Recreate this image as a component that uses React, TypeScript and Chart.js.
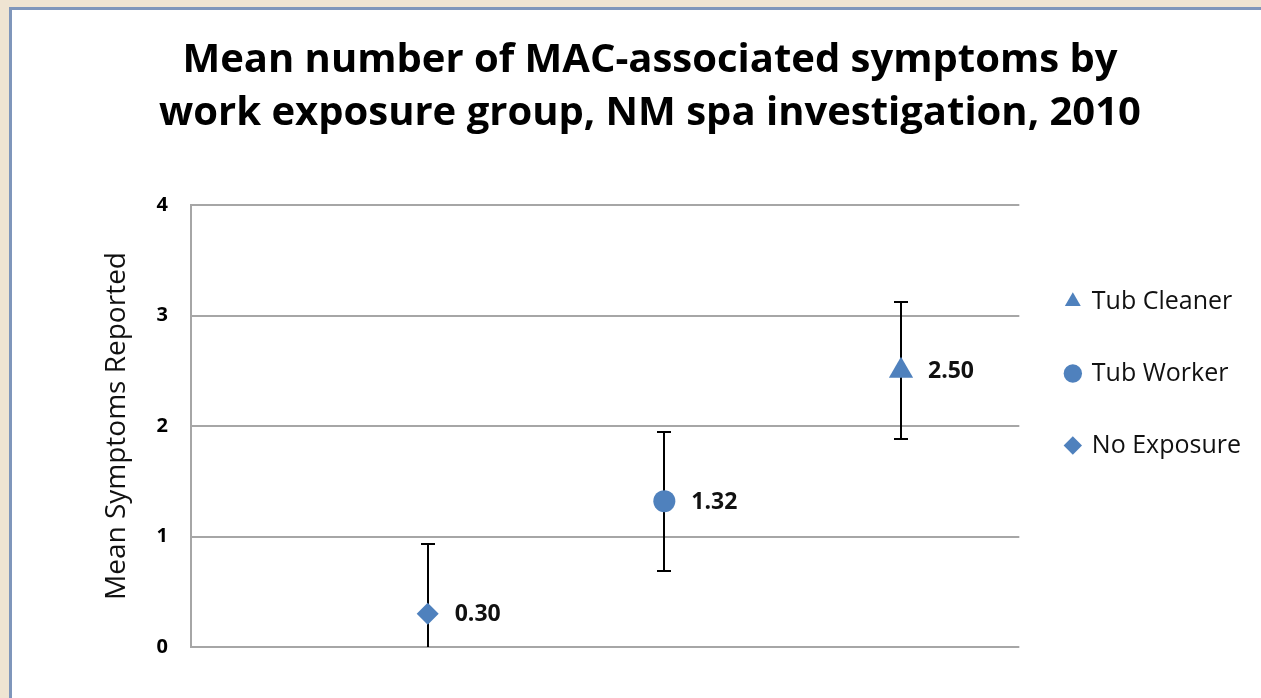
import React, { useEffect, useRef } from 'react';
import { Chart, registerables } from 'chart.js';

Chart.register(...registerables);

// ---- data ----
const seriesLabels = ['No Exposure', 'Tub Worker', 'Tub Cleaner'];
const groupPositions = [1, 2, 3];
const meanValues = [0.3, 1.32, 2.5];
const errorValues = [0.63, 0.63, 0.62];
const yTickValues = [0, 1, 2, 3, 4];
const titleLines = ['Mean number of MAC-associated symptoms by', 'work exposure group, NM spa investigation, 2010'];
const yAxisTitle = 'Mean Symptoms Reported';

const FONT = '"Open Sans", "DejaVu Sans", sans-serif';
const BLUE = '#4F81BD';
const SIDE_PAD = 37;

const errorBarPlugin = {
  id: 'errorBars',
  beforeDatasetsDraw(chart: any) {
    const { ctx, chartArea, scales } = chart;
    const x = scales.x;
    const y = scales.y;
    ctx.save();
    ctx.beginPath();
    ctx.rect(chartArea.left, chartArea.top - 2, chartArea.right - chartArea.left, chartArea.bottom - chartArea.top + 4);
    ctx.clip();
    ctx.strokeStyle = '#000000';
    ctx.lineWidth = 2;
    meanValues.forEach((m, i) => {
      const hi = m + errorValues[i];
      const lo = m - errorValues[i];
      const px = Math.round(x.getPixelForValue(groupPositions[i]));
      const pyHi = Math.round(y.getPixelForValue(hi));
      const pyLo = Math.round(y.getPixelForValue(Math.max(lo, y.min)));
      ctx.beginPath();
      ctx.moveTo(px, pyHi);
      ctx.lineTo(px, pyLo);
      if (hi <= y.max) {
        ctx.moveTo(px - 7, pyHi);
        ctx.lineTo(px + 7, pyHi);
      }
      if (lo >= y.min) {
        ctx.moveTo(px - 7, pyLo);
        ctx.lineTo(px + 7, pyLo);
      }
      ctx.stroke();
    });
    ctx.restore();
  },
};

const valueLabelPlugin = {
  id: 'valueLabels',
  afterDatasetsDraw(chart: any) {
    const { ctx } = chart;
    ctx.save();
    ctx.font = `bold 23px ${FONT}`;
    ctx.fillStyle = '#111111';
    ctx.textAlign = 'left';
    ctx.textBaseline = 'middle';
    chart.data.datasets.forEach((ds: any, i: number) => {
      const meta = chart.getDatasetMeta(i);
      const el = meta.data[0];
      if (!el) return;
      ctx.fillText(meanValues[i].toFixed(2), el.x + 27, el.y + 1);
    });
    ctx.restore();
  },
};

export default function App() {
  const canvasRef = useRef<HTMLCanvasElement | null>(null);

  useEffect(() => {
    document.body.style.margin = '0';
    const markerStyles: Record<string, { style: string; radius: number }> = {
      'No Exposure': { style: 'rectRot', radius: 11 },
      'Tub Worker': { style: 'circle', radius: 11 },
      'Tub Cleaner': { style: 'triangle', radius: 14 },
    };
    const datasets = seriesLabels.map((label, i) => ({
      label,
      data: [{ x: groupPositions[i], y: meanValues[i] }],
      pointStyle: markerStyles[label].style,
      pointRadius: markerStyles[label].radius,
      pointHoverRadius: markerStyles[label].radius,
      backgroundColor: BLUE,
      borderColor: BLUE,
      borderWidth: 0,
      pointBorderWidth: 0,
      showLine: false,
    }));

    const chart = new Chart(canvasRef.current as HTMLCanvasElement, {
      type: 'scatter',
      data: { datasets },
      plugins: [errorBarPlugin, valueLabelPlugin],
      options: {
        responsive: false,
        animation: false,
        events: [],
        layout: { padding: { left: SIDE_PAD, right: SIDE_PAD, top: 0, bottom: 63 } },
        plugins: {
          tooltip: { enabled: false },
          title: {
            display: true,
            text: titleLines,
            color: '#000000',
            font: { family: FONT, size: 40, weight: 'bold', lineHeight: '53px' },
            padding: { top: 24, bottom: 65 },
          },
          legend: {
            display: true,
            position: 'right',
            align: 'start',
            fullSize: false,
            reverse: true,
            title: { display: true, text: '', padding: { top: 36, bottom: 0 }, font: { size: 1, lineHeight: 1 } },
            labels: {
              usePointStyle: true,
              boxWidth: 13,
              boxHeight: 13,
              padding: 47,
              color: '#111111',
              font: { family: FONT, size: 25 },
            },
          },
        },
        scales: {
          x: { type: 'linear', min: 0, max: 3.5, display: false },
          y: {
            type: 'linear',
            min: 0,
            max: 4,
            afterFit: (scale: any) => {
              scale.width = 179 - SIDE_PAD;
            },
            afterBuildTicks: (scale: any) => {
              scale.ticks = yTickValues.map((v) => ({ value: v }));
            },
            ticks: {
              padding: 23,
              color: '#000000',
              font: { family: FONT, size: 20, weight: 'bold' },
            },
            grid: { color: '#A6A6A6', lineWidth: 2, drawTicks: false },
            border: { display: true, color: '#A6A6A6', width: 2 },
            title: {
              display: true,
              text: yAxisTitle,
              color: '#111111',
              font: { family: FONT, size: 28 },
              padding: { top: 88 - SIDE_PAD, bottom: 0 },
            },
          },
        },
      },
    } as any);
    return () => chart.destroy();
  }, []);

  return (
    <div style={{ position: 'fixed', left: 0, top: 0, right: 0, bottom: 0, background: '#EFE4D2', overflow: 'hidden' }}>
      <div
        style={{
          position: 'absolute',
          left: 9,
          top: 7,
          width: 1400,
          height: 800,
          border: '3px solid #7F96BB',
          background: '#FFFFFF',
        }}
      >
        <canvas ref={canvasRef} width={1276} height={700} style={{ position: 'absolute', left: 0, top: 0 }} />
      </div>
    </div>
  );
}
